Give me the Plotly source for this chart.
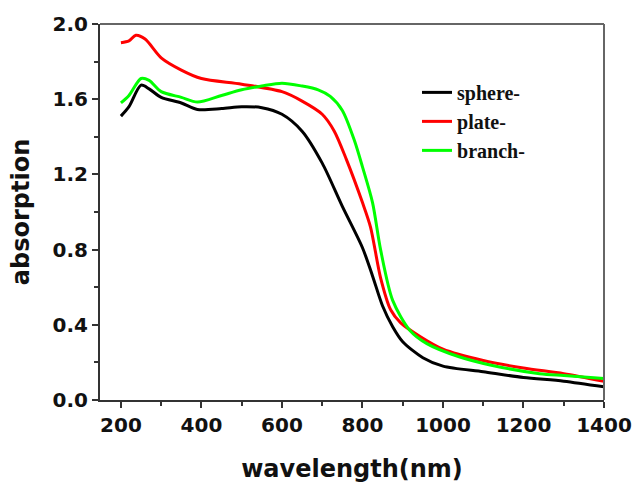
import plotly.graph_objects as go

wl_sphere = [200, 220, 250, 270, 300, 350, 390, 450, 500, 550, 600, 650, 700, 750, 800, 825, 850, 875, 900, 950, 1000, 1100, 1200, 1300, 1400]
sphere = [1.51, 1.56, 1.675, 1.655, 1.61, 1.58, 1.545, 1.55, 1.56, 1.555, 1.52, 1.43, 1.26, 1.03, 0.81, 0.66, 0.50, 0.39, 0.31, 0.225, 0.18, 0.15, 0.12, 0.10, 0.07]

wl_plate = [200, 220, 237, 260, 300, 350, 400, 500, 600, 650, 700, 730, 760, 800, 820, 845, 870, 895, 945, 1000, 1100, 1200, 1300, 1400]
plate = [1.90, 1.91, 1.94, 1.92, 1.82, 1.755, 1.71, 1.68, 1.64, 1.59, 1.52, 1.43, 1.28, 1.05, 0.92, 0.65, 0.48, 0.41, 0.335, 0.27, 0.21, 0.17, 0.14, 0.10]

wl_branch = [200, 220, 250, 270, 300, 350, 390, 450, 500, 550, 600, 650, 690, 720, 750, 780, 800, 825, 845, 875, 918, 960, 1040, 1120, 1240, 1300, 1400]
branch = [1.58, 1.62, 1.71, 1.70, 1.64, 1.61, 1.585, 1.62, 1.65, 1.67, 1.685, 1.67, 1.65, 1.615, 1.54, 1.38, 1.24, 1.05, 0.80, 0.53, 0.37, 0.30, 0.23, 0.185, 0.14, 0.13, 0.115]

series = [
    ("sphere-", wl_sphere, sphere, "#000000"),
    ("plate-", wl_plate, plate, "#ff0000"),
    ("branch-", wl_branch, branch, "#00ff00"),
]

x_ticks = [200, 400, 600, 800, 1000, 1200, 1400]
y_ticks = [0.0, 0.4, 0.8, 1.2, 1.6, 2.0]

fig = go.Figure()
for name, xs, ys, col in series:
    fig.add_trace(go.Scatter(x=xs, y=ys, mode="lines", name=name,
                             line=dict(color=col, width=3, shape="spline", smoothing=0.8)))

tick_font = dict(family="DejaVu Sans", size=20, color="#111111", weight="bold")
title_font = dict(family="DejaVu Sans", size=24, color="#111111", weight="bold")
fig.update_layout(
    width=634, height=483,
    margin=dict(l=100, r=30, t=24, b=83, autoexpand=False),
    plot_bgcolor="white", paper_bgcolor="white",
    showlegend=True,
    legend=dict(x=0.629, y=0.87, xanchor="left", yanchor="top",
                font=dict(family="Liberation Serif", size=20, color="#111111", weight="bold"),
                bgcolor="rgba(0,0,0,0)", tracegroupgap=0),
    xaxis=dict(range=[148, 1400], tickvals=x_ticks, ticks="outside", ticklen=6, tickwidth=2,
               tickcolor="#333", showline=True, linewidth=2, linecolor="#333", mirror=False,
               showgrid=False, zeroline=False, automargin=False, tickfont=tick_font,
               minor=dict(dtick=100, tick0=100, ticks="outside", ticklen=4, tickwidth=2, tickcolor="#333"),
               title=dict(text="wavelength(nm)", standoff=24, font=title_font)),
    yaxis=dict(range=[0, 2.0], tickvals=y_ticks, tickformat=".1f", ticks="outside", ticklen=6, tickwidth=2,
               tickcolor="#333", showline=True, linewidth=2, linecolor="#333", mirror=False,
               showgrid=False, zeroline=False, automargin=False, tickfont=tick_font,
               minor=dict(dtick=0.2, tick0=0, ticks="outside", ticklen=4, tickwidth=2, tickcolor="#333"),
               title=dict(text="absorption", standoff=16, font=title_font)),
)
# top and right frame lines
fig.add_shape(type="line", xref="paper", yref="paper", x0=0, x1=1, y0=1, y1=1,
              line=dict(color="#666", width=2))
fig.add_shape(type="line", xref="paper", yref="paper", x0=1, x1=1, y0=0, y1=1,
              line=dict(color="#666", width=2))

fig.write_html("out.html", config={"displayModeBar": False},
               post_script="document.body.style.margin='0';")
